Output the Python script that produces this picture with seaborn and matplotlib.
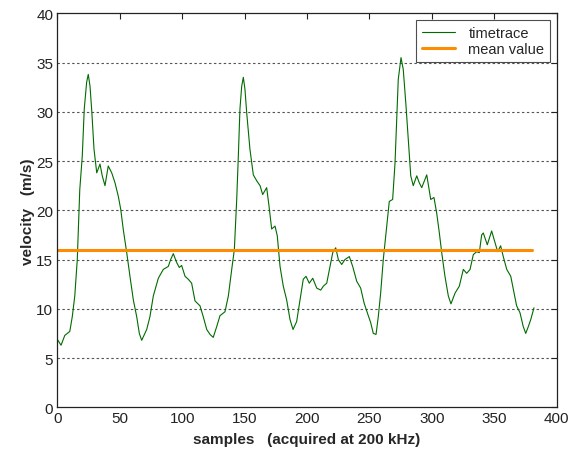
import matplotlib
matplotlib.use("Agg")
import matplotlib.pyplot as plt
import seaborn as sns
import pandas as pd

samples = [0, 3, 6, 10, 12, 14, 16, 18, 20, 21.6, 23.5, 24.8, 26.2, 27.6, 29.4, 31.6,
           34.2, 36, 38.2, 40.8, 43.6, 46.2, 48.9, 50.8, 52.9, 55.6, 58.2, 60.9, 63.6,
           65.7, 67.6, 71.6, 74.2, 76.9, 80.9, 84.9, 88.9, 90.8, 92.9, 95.6, 97.7,
           99.6, 102.3, 104.9, 107.6, 110.3, 114.3, 116.9, 119.7, 122.3, 124.9, 127.7,
           130.3, 134.3, 137, 139.7, 141.8, 143.7, 145, 146.3, 147.7, 149, 150.3, 151.7,
           154.3, 157, 159.7, 162.4, 164.5, 167.7, 169.6, 171.7, 174.4, 176.2, 178.4,
           181, 183.7, 186.4, 188.8, 191.7, 194.4, 197, 199.2, 201.8, 204.6, 207.8,
           211, 213.1, 215.8, 218.4, 220.6, 223, 225.1, 227.8, 230.4, 233.9, 236.6,
           239.8, 243, 245.7, 248.3, 251, 253.1, 255.3, 257.1, 259, 261.1, 263.3,
           265.9, 268.6, 270.5, 271.8, 273.1, 275.3, 277.1, 279.3, 281.5, 283.1,
           285.1, 287.9, 289.9, 291.9, 295.9, 299.1, 301.7, 303.9, 306, 307.9, 310.5,
           313.2, 315.3, 318.6, 322, 325.2, 327.9, 330.6, 333.2, 335.9, 338, 339.9,
           341.2, 344.4, 347.9, 350.6, 352.7, 355.1, 357.2, 360, 363.2, 365.2, 367.9,
           370.6, 373.2, 375.2, 377.3, 379.2, 381.8]
velocity = [6.9, 6.3, 7.3, 7.7, 9.2, 11.3, 15.0, 22.1, 25.5, 30.3, 33.0, 33.8, 32.6,
            30.1, 26.2, 23.8, 24.7, 23.5, 22.5, 24.5, 23.8, 22.8, 21.4, 20.1, 18.0,
            15.7, 13.3, 10.9, 9.2, 7.5, 6.8, 7.9, 9.2, 11.3, 13.1, 14.0, 14.3, 15.0,
            15.6, 14.7, 14.2,
            14.4, 13.3, 13.0, 12.6, 10.8, 10.3, 9.2, 7.9, 7.4, 7.1, 8.2, 9.3, 9.7,
            11.3, 14.0, 16.0, 21.1, 25.5, 30.3, 32.6, 33.5, 32.3, 29.9, 26.2, 23.6,
            23.0, 22.5, 21.6, 22.3, 20.4, 18.1, 18.4, 17.4, 14.3, 12.3, 10.9, 8.9,
            7.9, 8.7, 10.9, 13.0, 13.3, 12.6, 13.1, 12.1, 11.9, 12.3, 12.6, 14.3,
            15.7, 16.2, 15.0, 14.5, 15.0, 15.3, 14.3, 12.8, 12.1, 10.6, 9.6, 8.6,
            7.5, 7.4, 9.2, 11.6, 15.0, 17.7, 20.9, 21.1, 24.8, 29.2, 33.3, 35.5,
            34.3, 30.6, 26.5, 23.5, 22.5, 23.5, 22.8, 22.3, 23.6, 21.1, 21.3, 19.7,
            17.7, 15.7, 13.3, 11.3, 10.5, 11.6, 12.3, 14.0, 13.6, 14.0, 15.5, 15.8,
            15.7, 17.5, 17.7, 16.5, 17.9, 16.7, 15.8, 16.4, 15.3, 14.0, 13.3, 12.0,
            10.3, 9.6, 8.2, 7.5, 8.2, 8.9, 10.1]
mean_x = [0, 380.5]
mean_y = [16.0, 16.0]

x_ticks = [0, 50, 100, 150, 200, 250, 300, 350, 400]
y_ticks = [0, 5, 10, 15, 20, 25, 30, 35, 40]

sns.set_style("white")
plt.rcParams['font.family'] = ['Liberation Sans', 'DejaVu Sans']

fig = plt.figure(figsize=(5.76, 4.56), dpi=100)
ax = fig.add_axes([57.3 / 576, 1 - 408.3 / 456, (556.7 - 57.3) / 576, (408.3 - 14.3) / 456])

df = pd.DataFrame({"samples": samples, "velocity": velocity})
sns.lineplot(data=df, x="samples", y="velocity", ax=ax, color="#006b00",
             linewidth=0.8, label="timetrace", sort=False, estimator=None)
dm = pd.DataFrame({"x": mean_x, "y": mean_y})
sns.lineplot(data=dm, x="x", y="y", ax=ax, color="#ff8c00", linewidth=2.2,
             label="mean value", estimator=None)

ax.set_xlim(0, 400)
ax.set_ylim(0, 40)
ax.set_xticks(x_ticks)
ax.set_yticks(y_ticks)
ax.set_xticklabels([str(t) for t in x_ticks])
ax.set_yticklabels([str(t) for t in y_ticks])
for y in y_ticks[1:-1]:
    ax.axhline(y, color="#555555", linestyle=(0, (2.2, 2.2)), linewidth=0.8, zorder=0)

ax.tick_params(direction="in", length=4, width=0.8, color="#222222",
               top=True, right=True, labelsize=11, labelcolor="#222222", pad=3)
for s in ax.spines.values():
    s.set_color("#222222")
    s.set_linewidth(0.9)

ax.set_xlabel("samples   (acquired at 200 kHz)", fontsize=11, fontweight="bold", labelpad=5)
ax.set_ylabel("velocity   (m/s)", fontsize=11, fontweight="bold", labelpad=1)

leg = ax.legend(loc="upper right", fontsize=10.5, frameon=True, fancybox=False,
                borderaxespad=0.45, handlelength=2.3, borderpad=0.4, labelspacing=0.15,
                handletextpad=0.9)
leg.get_frame().set_edgecolor("#222222")
leg.get_frame().set_linewidth(0.8)

fig.savefig("out.png", dpi=100, facecolor="white")
